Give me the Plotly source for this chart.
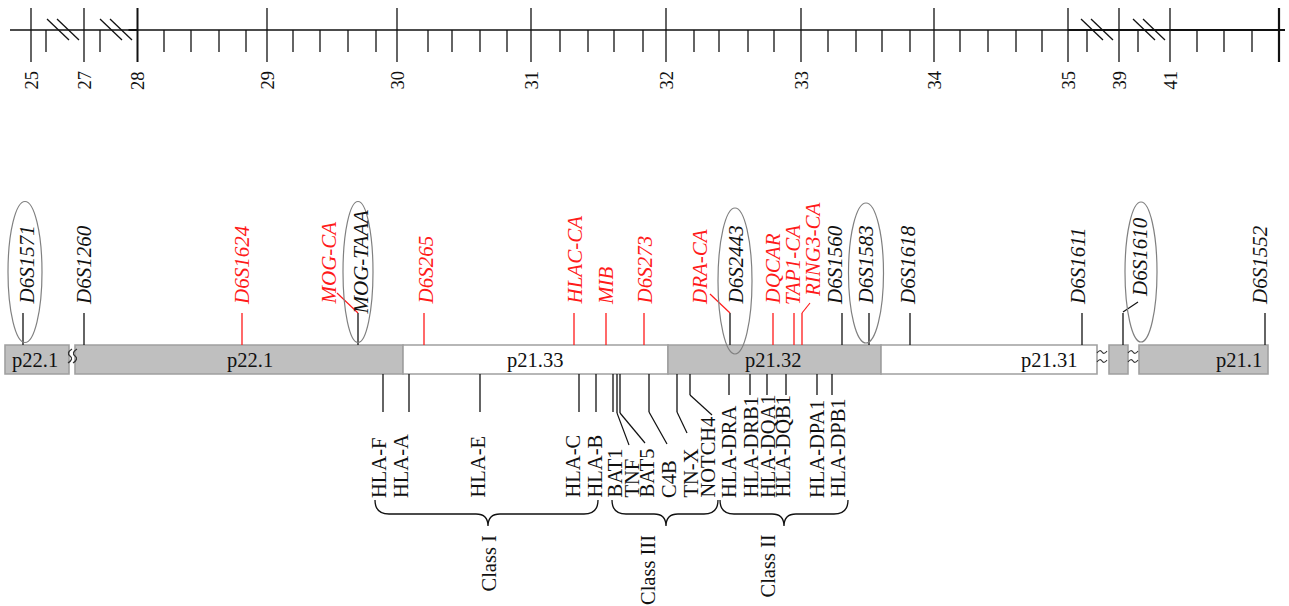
import plotly.graph_objects as go

# ---------------- data (diagram units: x along chromosome, y down the page) ----------------
# top physical scale (Mb)
scale_labels = ["25", "27", "28", "29", "30", "31", "32", "33", "34", "35", "39", "41"]
scale_major_x = [31, 84, 137.5, 267, 397, 531, 666, 801, 934, 1068, 1119, 1170]
scale_minor_x = [46, 100,
                 164, 191, 219, 246, 293, 320, 348, 376, 428, 452, 480, 507,
                 560, 588, 614, 643, 694, 719, 748, 774, 828, 856, 882, 910,
                 960, 988, 1016, 1042, 1087, 1138, 1197, 1224, 1252]
scale_end_x = 1279
scale_break_x = [63, 116, 1097, 1149]

# cytogenetic bands
band_names = ["p22.1", "p22.1", "p21.33", "p21.32", "p21.31", "", "p21.1"]
band_x0 = [5, 75, 403, 668, 881, 1109, 1139]
band_x1 = [69, 403, 668, 881, 1097, 1128, 1268]
band_dark = [True, True, False, True, False, True, True]
band_label_x = [35, 250, 535, 773, 1049, None, 1239]
band_gap_x = [72, 1102, 1133]
band_gap_vertical = [True, False, False]

# microsatellite markers
marker_names = ["D6S1571", "D6S1260", "D6S1624", "MOG-CA", "MOG-TAAA", "D6S265",
                "HLAC-CA", "MIB", "D6S273", "DRA-CA", "D6S2443", "DQCAR",
                "TAP1-CA", "RING3-CA", "D6S1560", "D6S1583", "D6S1618", "D6S1611",
                "D6S1610", "D6S1552"]
marker_x = [23, 84, 242, 358, 358, 424, 574, 606, 644, 730, 730, 773,
            794, 802, 842, 869, 910, 1082, 1123, 1265]
marker_label_x = [26, 84, 242, 328, 360, 425, 574, 606, 644, 700, 735, 772,
                  793, 813, 835, 865, 908, 1078, 1140, 1260]
marker_label_bottom = [305, 305, 305, 305, 315, 305, 305, 305, 305, 305, 305, 305,
                       305, 297, 305, 305, 305, 305, 297, 305]
marker_red = [False, False, True, True, False, True, True, True, True, True, False, True,
              True, True, False, False, False, False, False, False]
marker_own_stem = [True, True, True, False, True, True, True, True, True, False, True, True,
                   True, True, True, True, True, True, True, True]
# slanted leader lines: from near the label to the stem top
leader_names = ["MOG-CA", "DRA-CA", "RING3-CA", "D6S1610"]
leader_x0 = [337, 710, 810, 1138]
leader_y0 = [293, 294, 303, 302]
leader_x1 = [358, 730, 802, 1123]
leader_y1 = [313, 313, 313, 312]
leader_red = [True, True, True, False]

# circled markers (ellipse centre x, centre y, width, height)
ellipse_names = ["D6S1571", "MOG-TAAA", "D6S2443", "D6S1583", "D6S1610"]
ellipse_cx = [25, 358, 735, 866, 1141]
ellipse_cy = [272, 272, 281, 273, 272]
ellipse_w = [34, 30, 34, 35, 32]
ellipse_h = [141, 141, 146, 140, 140]

# HLA genes below the chromosome
gene_names = ["HLA-F", "HLA-A", "HLA-E", "HLA-C", "HLA-B", "BAT1", "TNF", "BAT5", "C4B",
              "TN-X", "NOTCH4", "HLA-DRA", "HLA-DRB1", "HLA-DQA1", "HLA-DQB1",
              "HLA-DPA1", "HLA-DPB1"]
gene_x = [383, 409, 480, 579, 596, 613, 617, 620, 649, 677, 690, 729, 750, 767, 786, 817, 832]
gene_stem_end = [412, 412, 412, 412, 412, 412, 413, 413, 412, 412, 395, 395, 395, 395, 395, 395, 395]
gene_leader_x = [383, 409, 480, 579, 596, 613, 629, 645, 667, 687, 712, 729, 750, 767, 786, 817, 832]
gene_leader_y = [412, 412, 412, 412, 412, 412, 445, 443, 444, 433, 415, 395, 395, 395, 395, 395, 395]
gene_label_x = [379, 401, 477, 572, 594, 614, 631, 646, 669, 690, 707, 729, 750, 768, 782, 817, 837]

# HLA classes
class_names = ["Class I", "Class III", "Class II"]
class_x0 = [375, 612, 720]
class_x1 = [598, 718, 848]
class_mid = [488, 666, 784]
class_label_x = [488, 648, 767]

# ---------------- styling ----------------
W, H = 1289, 606
SERIF = "Liberation Serif"
RED = "#ff1a1a"
BLACK = "#111111"
GRAY_FILL = "#bfbfbf"
GRAY_EDGE = "#a0a0a0"
ELLIPSE_COL = "#808080"

AXIS_Y = 30
BAR_TOP, BAR_BOT = 345, 374
STEM_TOP = 313

shapes = []
annotations = []


def seg(x0, y0, x1, y1, color=BLACK, width=1.3):
    shapes.append(dict(type="line", xref="x", yref="y", x0=x0, y0=y0, x1=x1, y1=y1,
                       line=dict(color=color, width=width), layer="above"))


def label(text, x, y, color=BLACK, size=18, xanchor="center", yanchor="middle", angle=0):
    annotations.append(dict(text=text, x=x, y=y, xref="x", yref="y", showarrow=False,
                            textangle=angle, xanchor=xanchor, yanchor=yanchor,
                            font=dict(family=SERIF, size=size, color=color),
                            borderpad=0, borderwidth=0))


def tilde(cx, cy, vertical):
    # small wavy break mark
    if vertical:
        p = (f"M {cx + 2},{cy - 7} Q {cx - 4},{cy - 3} {cx},{cy} "
             f"Q {cx + 4},{cy + 3} {cx - 2},{cy + 7}")
    else:
        p = (f"M {cx - 5},{cy + 1} Q {cx - 2},{cy - 3} {cx},{cy} "
             f"Q {cx + 2},{cy + 3} {cx + 5},{cy - 1}")
    shapes.append(dict(type="path", xref="x", yref="y", path=p,
                       line=dict(color="#333333", width=1.2)))


# --- top scale ---
seg(10, AXIS_Y, 1285, AXIS_Y, width=1.3)
seg(scale_major_x[9], AXIS_Y, 1285, AXIS_Y, width=2)
seg(scale_major_x[2] - 9, AXIS_Y, scale_major_x[2], AXIS_Y, width=2)
for i, x in enumerate(scale_major_x):
    seg(x, 8, x, 62, width=2 if scale_labels[i] == "28" else 1.3)
    label(scale_labels[i], x, 71, yanchor="top", angle=-90, size=18.5)
seg(scale_end_x, 8, scale_end_x, 62, width=2.2)
for x in scale_minor_x:
    seg(x, AXIS_Y, x, 52)
for c in scale_break_x:
    for off in (-5, 5):
        seg(c + off - 11, 19, c + off + 11, 40)

# --- chromosome bands ---
for i, name in enumerate(band_names):
    shapes.append(dict(type="rect", xref="x", yref="y", x0=band_x0[i], x1=band_x1[i],
                       y0=BAR_TOP, y1=BAR_BOT,
                       fillcolor=GRAY_FILL if band_dark[i] else "#ffffff",
                       line=dict(color=GRAY_EDGE, width=1.6), layer="below"))
    if name:
        label(name, band_label_x[i], (BAR_TOP + BAR_BOT) / 2 + 1, size=20.5)
for i, gx in enumerate(band_gap_x):
    if band_gap_vertical[i]:
        tilde(gx - 2, 356, True)
        tilde(gx + 3, 356, True)
    else:
        tilde(gx, 352, False)
        tilde(gx, 361, False)

# --- markers ---
for i, name in enumerate(marker_names):
    col = RED if marker_red[i] else BLACK
    if marker_own_stem[i]:
        seg(marker_x[i], STEM_TOP, marker_x[i], BAR_TOP, color=col, width=1.3)
    label("<i>%s</i>" % name, marker_label_x[i], marker_label_bottom[i], color=col,
          yanchor="bottom", angle=-90, size=21)
for i, name in enumerate(leader_names):
    seg(leader_x0[i], leader_y0[i], leader_x1[i], leader_y1[i],
        color=RED if leader_red[i] else BLACK, width=1.2)
for i, name in enumerate(ellipse_names):
    shapes.append(dict(type="circle", xref="x", yref="y",
                       x0=ellipse_cx[i] - ellipse_w[i] / 2, x1=ellipse_cx[i] + ellipse_w[i] / 2,
                       y0=ellipse_cy[i] - ellipse_h[i] / 2, y1=ellipse_cy[i] + ellipse_h[i] / 2,
                       line=dict(color=ELLIPSE_COL, width=1.2), layer="above"))

# --- genes ---
for i, name in enumerate(gene_names):
    seg(gene_x[i], BAR_BOT, gene_x[i], gene_stem_end[i], width=1.3)
    if gene_leader_x[i] != gene_x[i] or gene_leader_y[i] != gene_stem_end[i]:
        seg(gene_x[i], gene_stem_end[i], gene_leader_x[i], gene_leader_y[i], width=1.2)
    label(name, gene_label_x[i], 498, yanchor="bottom", angle=-90, size=20.5)

# --- class braces ---
top, mid_y, tip = 500, 514, 526
for i, name in enumerate(class_names):
    a, b, m = class_x0[i], class_x1[i], class_mid[i]
    path = (f"M {a},{top} Q {a},{mid_y} {a + 14},{mid_y} L {m - 12},{mid_y} "
            f"Q {m},{mid_y} {m},{tip} Q {m},{mid_y} {m + 12},{mid_y} "
            f"L {b - 14},{mid_y} Q {b},{mid_y} {b},{top}")
    shapes.append(dict(type="path", xref="x", yref="y", path=path,
                       line=dict(color=BLACK, width=1.3)))
    label(name, class_label_x[i], 535, yanchor="top", angle=-90, size=20.5)

fig = go.Figure()
fig.update_layout(
    width=W, height=H, margin=dict(l=0, r=0, t=0, b=0),
    paper_bgcolor="#ffffff", plot_bgcolor="#ffffff",
    xaxis=dict(range=[0, W], visible=False, fixedrange=True),
    yaxis=dict(range=[H, 0], visible=False, fixedrange=True),
    shapes=shapes, annotations=annotations, showlegend=False,
)
fig.write_html("out.html", config={"displayModeBar": False},
               post_script="document.body.style.margin='0';document.body.style.overflow='hidden';")
